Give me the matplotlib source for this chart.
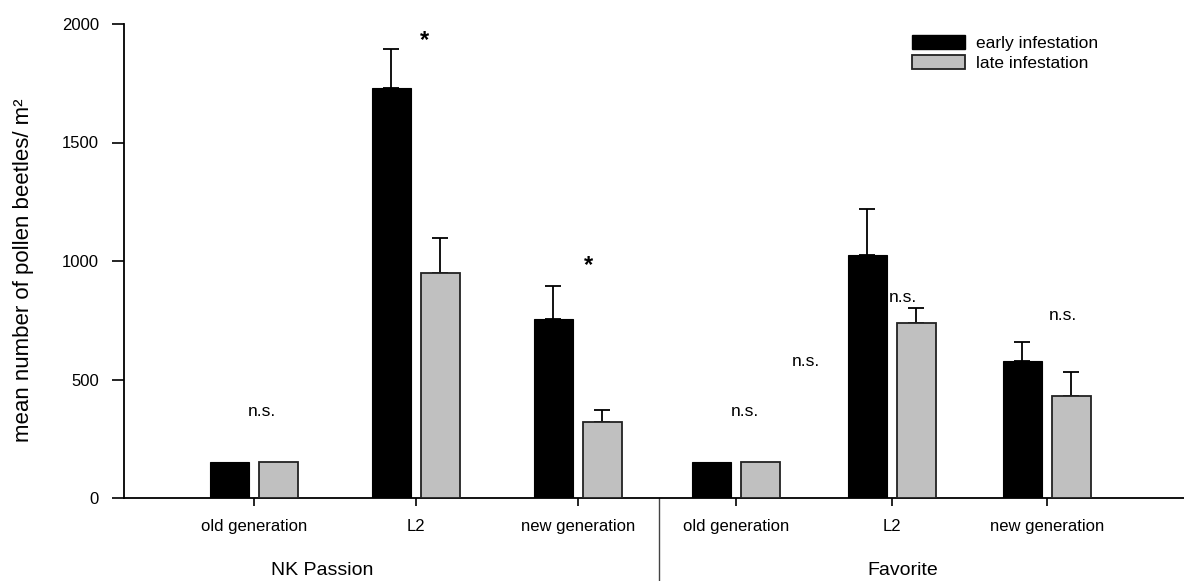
import matplotlib
matplotlib.use("Agg")
import matplotlib.pyplot as plt
from matplotlib.patches import Patch

plt.rcParams['font.family'] = ['Liberation Sans', 'DejaVu Sans']

# ---- data ----
varieties = ['NK Passion', 'Favorite']
stages = ['old generation', 'L2', 'new generation']
tick_labels = stages * 2
early = [150, 1730, 755, 150, 1025, 578]
early_err = [0, 165, 140, 0, 195, 80]
late = [150, 950, 320, 150, 740, 432]
late_err = [0, 148, 52, 0, 62, 100]
series_names = ['early infestation', 'late infestation']
yticks = [0, 500, 1000, 1500, 2000]
annot_text = ['n.s.', '*', '*', 'n.s.', 'n.s.', 'n.s.', 'n.s.']
annot_y = [363, 1932, 983, 578, 363, 848, 768]

# ---- layout (pixel-like x scale) ----
W, H = 1184, 581
positions = [254, 416, 578, 736, 892, 1047]
annot_x = [262, 425, 588, 806, 745, 903, 1063]
sep_x = 659
group_x = [322, 903]

fig = plt.figure(figsize=(W / 100, H / 100), dpi=100)
ax = fig.add_axes([124 / W, (H - 498) / H, (W - 124) / W, (498 - 24) / H])
ax.set_xlim(124, W)
ax.set_ylim(0, 2000)

bw = 39
ex = [p - 25 for p in positions]
lx = [p + 24 for p in positions]
ax.bar(ex, early, width=bw, color='black', edgecolor='black', linewidth=0.8, zorder=3)
ax.bar(lx, late, width=bw, color='#c0c0c0', edgecolor='#222222', linewidth=1.3, zorder=3)

for xs, vals, errs in [(ex, early, early_err), (lx, late, late_err)]:
    xe = [x for x, e in zip(xs, errs) if e > 0]
    ve = [v for v, e in zip(vals, errs) if e > 0]
    ee = [e for e in errs if e > 0]
    ax.errorbar(xe, ve, yerr=[[0] * len(ee), ee], fmt='none', ecolor='black',
                elinewidth=1.3, capsize=6, capthick=1.3, zorder=2)

for t, x, y in zip(annot_text, annot_x, annot_y):
    if t == '*':
        ax.text(x, y, t, ha='center', va='center', fontsize=17, fontweight='bold')
    else:
        ax.text(x, y, t, ha='center', va='center', fontsize=12.5)

ax.spines['top'].set_visible(False)
ax.spines['right'].set_visible(False)
ax.spines['left'].set_linewidth(1.3)
ax.spines['bottom'].set_linewidth(1.3)

ax.set_yticks(yticks)
ax.set_yticklabels([str(v) for v in yticks], fontsize=12)
ax.tick_params(axis='y', length=9, width=1.2, pad=9)
ax.set_xticks(positions)
ax.set_xticklabels(tick_labels, fontsize=12)
ax.tick_params(axis='x', length=6, width=1.2, pad=9)
ax.set_ylabel('mean number of pollen beetles/ m²', fontsize=16)
ax.yaxis.set_label_coords(-90 / (W - 124), (498 - 270) / 474)

# separator line between varieties
ax.plot([sep_x, sep_x], [0, -350], color='#444444', linewidth=1, clip_on=False)

for name, gx in zip(varieties, group_x):
    ax.text(gx, -305, name, ha='center', va='center', fontsize=14)

handles = [Patch(facecolor='black', edgecolor='black'),
           Patch(facecolor='#c0c0c0', edgecolor='#222222', linewidth=1.3)]
ax.legend(handles, series_names, loc='upper left', bbox_to_anchor=(772 / (W - 124), 1.01),
          frameon=False, fontsize=12.5, handlelength=3.1, handleheight=0.85,
          handletextpad=0.6, labelspacing=0.25)

fig.savefig('out.png', dpi=100)
